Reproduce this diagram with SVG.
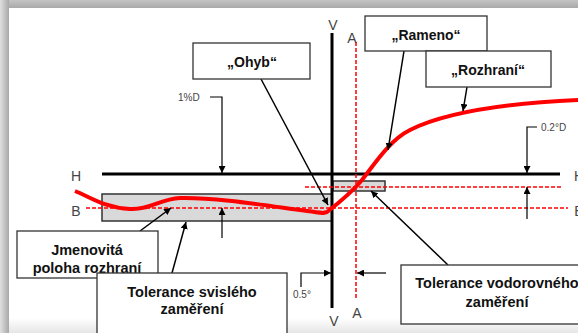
<svg xmlns="http://www.w3.org/2000/svg" width="578" height="333" viewBox="0 0 578 333">
<defs>
<linearGradient id="gt" x1="0" y1="0" x2="0" y2="1"><stop offset="0" stop-color="#c4c4c4"/><stop offset="1" stop-color="#a9a9a9"/></linearGradient>
<linearGradient id="gl" x1="0" y1="0" x2="1" y2="0"><stop offset="0" stop-color="#e0e0e0"/><stop offset="1" stop-color="#a8a8a8"/></linearGradient>
<linearGradient id="gb" x1="0" y1="0" x2="0" y2="1"><stop offset="0" stop-color="#ffffff"/><stop offset="1" stop-color="#e6e6e6"/></linearGradient>
<marker id="ah" viewBox="0 0 10 10" refX="10" refY="5" markerWidth="7" markerHeight="7" markerUnits="userSpaceOnUse" orient="auto"><path d="M0,0 L10,5 L0,10 z" fill="#000"/></marker>
</defs>
<style>
.lbl{font-family:"Liberation Sans",Arial,sans-serif;font-size:14px;fill:#444;text-anchor:middle}
.sm{font-family:"Liberation Sans",Arial,sans-serif;font-size:10px;fill:#444}
.bt{font-family:"Liberation Sans",Arial,sans-serif;font-size:14px;font-weight:bold;fill:#111;text-anchor:middle}
.bt2{font-family:"Liberation Sans",Arial,sans-serif;font-size:14.5px;font-weight:bold;fill:#111;text-anchor:middle}
.box{fill:#fff;stroke:#333;stroke-width:1.3}
.tol{fill:#d9d9d9;stroke:#333;stroke-width:1.5}
.ax{stroke:#000;stroke-width:3;fill:none}
.rd{stroke:#f00;stroke-width:1.5;stroke-dasharray:4 2;fill:none}
.ld{stroke:#000;stroke-width:1.5;fill:none}
.dm{stroke:#000;stroke-width:1.2;fill:none}
</style>
<rect x="0" y="0" width="578" height="333" fill="#fff"/>
<rect x="0" y="318" width="578" height="15" fill="url(#gb)"/>
<rect x="0" y="0" width="578" height="8" fill="url(#gt)"/>
<rect x="0" y="0" width="9" height="333" fill="url(#gl)"/>

<g id="tolerance-bands">
<rect class="tol" x="102" y="194" width="230" height="27"/>
<rect class="tol" x="333" y="181" width="52" height="10"/>
</g>

<g id="axes">
<line class="ax" x1="332" y1="33" x2="332" y2="308"/>
<line class="ax" x1="102" y1="174" x2="560" y2="174"/>
<line class="rd" x1="356" y1="42" x2="356" y2="298"/>
<line class="rd" x1="86" y1="208" x2="568" y2="208"/>
<line class="rd" x1="305" y1="187" x2="563" y2="187"/>
<text class="lbl" x="333" y="30">V</text>
<text class="lbl" x="334" y="326">V</text>
<text class="lbl" x="352" y="43">A</text>
<text class="lbl" x="357" y="318">A</text>
<text class="lbl" x="76" y="181">H</text>
<text class="lbl" x="76" y="216">B</text>
<text class="lbl" x="579" y="181">H</text>
<text class="lbl" x="579" y="216">B</text>
</g>

<g id="curve">
<path d="M75,191 C90,197 105,208 130,209 C150,210 160,199 180,198 C220,197 280,208 323,213 L327,212 C340,202 352,192 362,180 C376,162 390,140 410,130 C440,115 490,104 578,100" fill="none" stroke="#f00" stroke-width="4" stroke-linejoin="round"/>
</g>

<g id="dimensions">
<text class="sm" x="178" y="101">1%D</text>
<path class="dm" d="M210,97 L222,97 L222,173" marker-end="url(#ah)"/>
<path class="dm" d="M222,238 L222,208" marker-end="url(#ah)"/>
<text class="sm" x="541" y="131">0.2°D</text>
<path class="dm" d="M537,127 L527,127 L527,173" marker-end="url(#ah)"/>
<path class="dm" d="M527,219 L527,187" marker-end="url(#ah)"/>
<text class="sm" x="293" y="298">0.5°</text>
<path class="dm" d="M301,287 L301,273 L331,273" marker-end="url(#ah)"/>
<path class="dm" d="M386,273 L357,273" marker-end="url(#ah)"/>
</g>

<g id="connectors">
<line class="ld" x1="261" y1="79" x2="328" y2="205" marker-end="url(#ah)"/>
<line class="ld" x1="404" y1="51" x2="388" y2="150" marker-end="url(#ah)"/>
<line class="ld" x1="467" y1="87" x2="463" y2="111" marker-end="url(#ah)"/>
<line class="ld" x1="140" y1="231" x2="171" y2="208" marker-end="url(#ah)"/>
<line class="ld" x1="172" y1="273" x2="186" y2="222" marker-end="url(#ah)"/>
<line class="ld" x1="448" y1="265" x2="371" y2="191" marker-end="url(#ah)"/>
</g>

<g id="ohyb"><rect class="box" x="193" y="43" width="117" height="36"/><text class="bt" x="252" y="67">„Ohyb“</text></g>
<g id="rameno"><rect class="box" x="365" y="16" width="122" height="35"/><text class="bt" x="426" y="40">„Rameno“</text></g>
<g id="rozhrani"><rect class="box" x="426" y="51" width="125" height="36"/><text class="bt" x="488" y="75">„Rozhraní“</text></g>
<g id="jmenovita"><rect class="box" x="17" y="231" width="141" height="47"/><text class="bt2" x="87" y="255">Jmenovitá</text><text class="bt2" x="87" y="273">poloha rozhraní</text></g>
<g id="tol-svisleho"><rect class="box" x="97" y="273" width="190" height="62"/><text class="bt2" x="192" y="297">Tolerance svislého</text><text class="bt2" x="192" y="314">zaměření</text></g>
<g id="tol-vodorovneho"><rect class="box" x="401" y="265" width="190" height="59"/><text class="bt2" x="497" y="288">Tolerance vodorovného</text><text class="bt2" x="497" y="307">zaměření</text></g>
</svg>
